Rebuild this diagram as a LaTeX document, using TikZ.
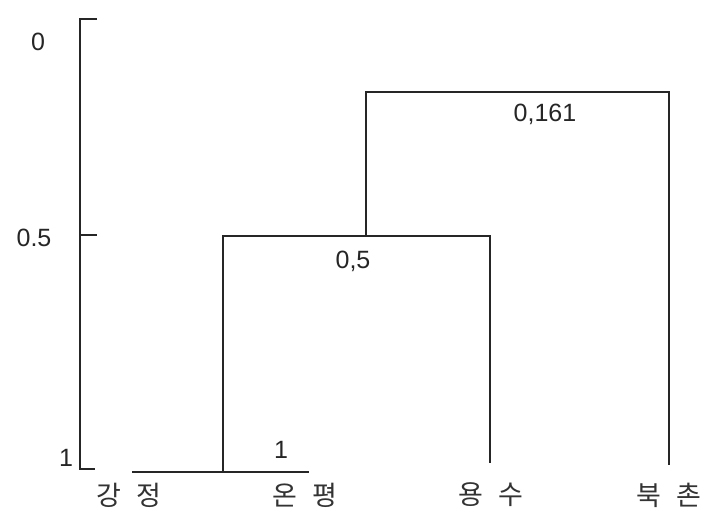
\documentclass[tikz,border=0pt]{standalone}
\usepackage{fontspec}
\setmainfont{Liberation Sans}
\newfontfamily\kofont{Noto Sans CJK KR}
\begin{document}
\begin{tikzpicture}[x=1pt,y=-1pt,
  line/.style={draw=black!85,line width=1.6pt},
  num/.style={font=\fontsize{25}{25}\selectfont,text=black!85,inner sep=0pt},
  leaf/.style={font=\kofont\fontsize{27}{27}\selectfont,text=black!80,inner sep=0pt}]
\useasboundingbox[fill=white] (0,0) rectangle (705,516);
% axis
\coordinate (atop) at (80,19);
\coordinate (amid) at (80,235);
\coordinate (abot) at (80,469);
\draw[line] (97,19) -- (atop) -- (abot) -- (95,469);
\draw[line] (amid) -- (97,235);
\node[num] (l0) at (38,42) {0};
\node[num] (l05) at (34,238) {0.5};
\node[num] (l1) at (66,458) {1};
% leaves
\node[leaf] (kj) at (129,495) {강\hspace{15pt}정};
\node[leaf] (op) at (305,495) {온\hspace{15pt}평};
\node[leaf] (ys) at (491,495) {용\hspace{15pt}수};
\node[leaf] (bc) at (669,495) {북\hspace{15pt}촌};
% clusters
\coordinate (b1) at (132,472);
\coordinate (b2) at (309,472);
\coordinate (c1) at (223,472);
\coordinate (c1top) at (223,236);
\coordinate (c2) at (490,463);
\coordinate (c2top) at (490,236);
\coordinate (m) at (366,236);
\coordinate (mtop) at (366,92);
\coordinate (c3) at (669,465);
\coordinate (c3top) at (669,92);
\draw[line] (b1) -- (b2);
\draw[line] (c1) -- (c1top) -- (c2top) -- (c2);
\draw[line] (m) -- (mtop) -- (c3top) -- (c3);
\node[num] (v1) at (281,450) {1};
\node[num] (v05) at (353,261) {0,5};
\node[num] (v161) at (545,114) {0,161};
\end{tikzpicture}
\end{document}
